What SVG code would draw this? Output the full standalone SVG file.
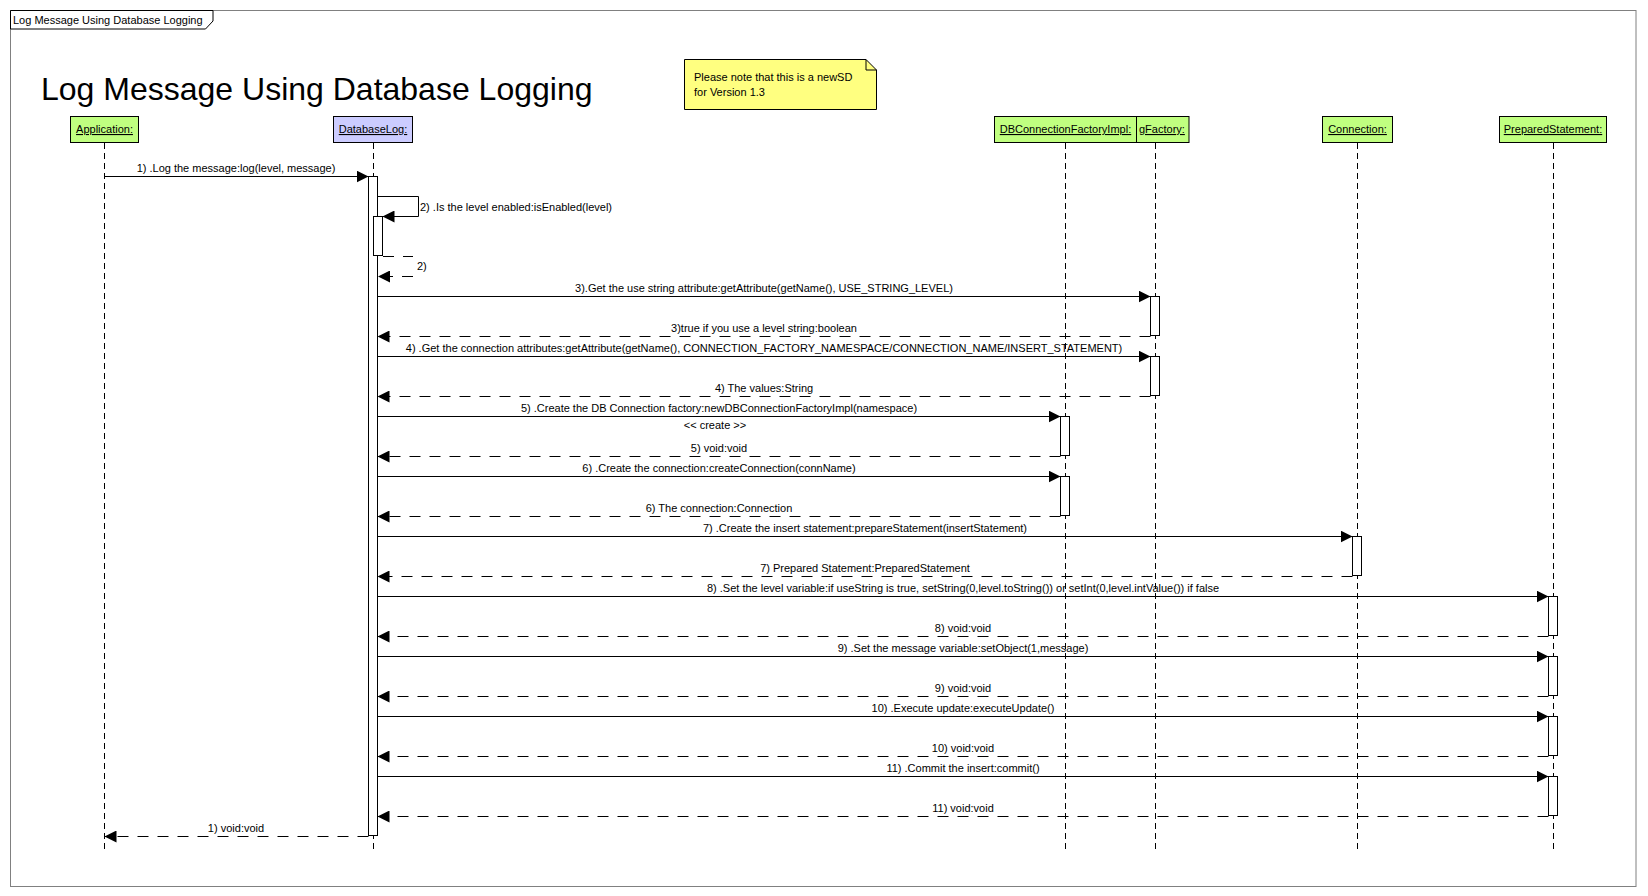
<svg xmlns="http://www.w3.org/2000/svg" width="1648" height="896" viewBox="0 0 1648 896">
<style>
text{font-family:"Liberation Sans",Arial,sans-serif;fill:#000}
.lbl{font-size:11px;text-anchor:middle}
.lbll{font-size:11px}
.hd{font-size:11px;text-anchor:middle;text-decoration:underline}
.box{stroke:#000;stroke-width:1}
.g{fill:#c0ff80}
.b{fill:#ccccff}
.life{stroke:#000;stroke-width:1;stroke-dasharray:6 4;fill:none}
.act{fill:#fff;stroke:#000;stroke-width:1}
.call{stroke:#000;stroke-width:1;fill:none;marker-end:url(#ah)}
.ret{stroke:#000;stroke-width:1;fill:none;stroke-dasharray:11 9;marker-end:url(#ah)}
</style>
<defs>
<marker id="ah" markerUnits="userSpaceOnUse" markerWidth="12" markerHeight="12" refX="12" refY="6" orient="auto">
<path d="M0,0 L12,6 L0,12 z" fill="#000"/>
</marker>
</defs>
<rect width="1648" height="896" fill="#fff"/>
<g id="frame">
<rect x="10.5" y="10.5" width="1625.5" height="876" fill="none" stroke="#808080"/>
<polygon points="10.5,10.5 213,10.5 213,21 205.5,29 10.5,29" fill="#fff" stroke="#000"/>
<text x="13" y="24" class="lbll">Log Message Using Database Logging</text>
<text x="41" y="100" style="font-size:32px">Log Message Using Database Logging</text>
</g>
<g id="note">
<polygon points="684.5,59.5 866,59.5 876.5,70 876.5,109.5 684.5,109.5" fill="#ffff80" stroke="#000"/>
<polyline points="866,59.5 866,70 876.5,70" fill="none" stroke="#000"/>
<text x="694" y="81" class="lbll">Please note that this is a newSD</text>
<text x="694" y="96" class="lbll">for Version 1.3</text>
</g>
<g id="lifelines">
<line x1="104.5" y1="143" x2="104.5" y2="850" class="life"/>
<line x1="373.5" y1="143" x2="373.5" y2="850" class="life"/>
<line x1="1065.5" y1="143" x2="1065.5" y2="850" class="life"/>
<line x1="1155.5" y1="143" x2="1155.5" y2="850" class="life"/>
<line x1="1357.5" y1="143" x2="1357.5" y2="850" class="life"/>
<line x1="1553.5" y1="143" x2="1553.5" y2="850" class="life"/>
</g>
<g id="Application">
<rect x="70.5" y="116.5" width="68" height="26" class="box g"/>
<text x="104.5" y="133" class="hd">Application:</text>
</g>
<g id="DatabaseLog">
<rect x="333.5" y="116.5" width="79" height="26" class="box b"/>
<text x="373" y="133" class="hd">DatabaseLog:</text>
</g>
<g id="gFactory">
<rect x="1121.5" y="116.5" width="67.5" height="26" class="box g"/>
<text x="1139" y="133" class="lbll" style="text-decoration:underline">gFactory:</text>
</g>
<g id="DBConnectionFactoryImpl">
<rect x="994.5" y="116.5" width="142" height="26" class="box g"/>
<text x="1065.5" y="133" class="hd">DBConnectionFactoryImpl:</text>
</g>
<g id="Connection">
<rect x="1322.5" y="116.5" width="70" height="26" class="box g"/>
<text x="1357.5" y="133" class="hd">Connection:</text>
</g>
<g id="PreparedStatement">
<rect x="1499.5" y="116.5" width="107" height="26" class="box g"/>
<text x="1553" y="133" class="hd">PreparedStatement:</text>
</g>
<g id="activations">
<rect x="368.5" y="176.5" width="9" height="659" class="act"/>
<rect x="373.5" y="216.5" width="9" height="39" class="act"/>
<rect x="1150.5" y="296.5" width="9" height="39" class="act"/>
<rect x="1150.5" y="356.5" width="9" height="39" class="act"/>
<rect x="1060.5" y="416.5" width="9" height="39" class="act"/>
<rect x="1060.5" y="476.5" width="9" height="39" class="act"/>
<rect x="1352.5" y="536.5" width="9" height="39" class="act"/>
<rect x="1548.5" y="596.5" width="9" height="39" class="act"/>
<rect x="1548.5" y="656.5" width="9" height="39" class="act"/>
<rect x="1548.5" y="716.5" width="9" height="39" class="act"/>
<rect x="1548.5" y="776.5" width="9" height="39" class="act"/>
</g>
<g id="connectors">
<path d="M104.5,176.5 H368.5" class="call"/>
<path d="M377.5,196.5 H418.5 V216.5 H382.5" class="call"/>
<path d="M383,256.5 H413 M413,276.5 H378" class="ret"/>
<path d="M377.5,296.5 H1150.5" class="call"/>
<path d="M1150.5,336.5 H377.5" class="ret"/>
<path d="M377.5,356.5 H1150.5" class="call"/>
<path d="M1150.5,396.5 H377.5" class="ret"/>
<path d="M377.5,416.5 H1060.5" class="call"/>
<path d="M1060.5,456.5 H377.5" class="ret"/>
<path d="M377.5,476.5 H1060.5" class="call"/>
<path d="M1060.5,516.5 H377.5" class="ret"/>
<path d="M377.5,536.5 H1352.5" class="call"/>
<path d="M1352.5,576.5 H377.5" class="ret"/>
<path d="M377.5,596.5 H1548.5" class="call"/>
<path d="M1548.5,636.5 H377.5" class="ret"/>
<path d="M377.5,656.5 H1548.5" class="call"/>
<path d="M1548.5,696.5 H377.5" class="ret"/>
<path d="M377.5,716.5 H1548.5" class="call"/>
<path d="M1548.5,756.5 H377.5" class="ret"/>
<path d="M377.5,776.5 H1548.5" class="call"/>
<path d="M1548.5,816.5 H377.5" class="ret"/>
<path d="M368.5,836.5 H104.5" class="ret"/>
</g>
<g id="labels">
<text x="236" y="172" class="lbl">1) .Log the message:log(level, message)</text>
<text x="420" y="211" class="lbll">2) .Is the level enabled:isEnabled(level)</text>
<text x="417" y="270" class="lbll">2)</text>
<text x="764" y="292" class="lbl">3).Get the use string attribute:getAttribute(getName(), USE_STRING_LEVEL)</text>
<text x="764" y="332" class="lbl">3)true if you use a level string:boolean</text>
<text x="764" y="352" class="lbl">4) .Get the connection attributes:getAttribute(getName(), CONNECTION_FACTORY_NAMESPACE/CONNECTION_NAME/INSERT_STATEMENT)</text>
<text x="764" y="392" class="lbl">4) The values:String</text>
<text x="719" y="412" class="lbl">5) .Create the DB Connection factory:newDBConnectionFactoryImpl(namespace)</text>
<text x="715" y="429" class="lbl">&lt;&lt; create &gt;&gt;</text>
<text x="719" y="452" class="lbl">5) void:void</text>
<text x="719" y="472" class="lbl">6) .Create the connection:createConnection(connName)</text>
<text x="719" y="512" class="lbl">6) The connection:Connection</text>
<text x="865" y="532" class="lbl">7) .Create the insert statement:prepareStatement(insertStatement)</text>
<text x="865" y="572" class="lbl">7) Prepared Statement:PreparedStatement</text>
<text x="963" y="592" class="lbl">8) .Set the level variable:if useString is true, setString(0,level.toString()) or setInt(0,level.intValue()) if false</text>
<text x="963" y="632" class="lbl">8) void:void</text>
<text x="963" y="652" class="lbl">9) .Set the message variable:setObject(1,message)</text>
<text x="963" y="692" class="lbl">9) void:void</text>
<text x="963" y="712" class="lbl">10) .Execute update:executeUpdate()</text>
<text x="963" y="752" class="lbl">10) void:void</text>
<text x="963" y="772" class="lbl">11) .Commit the insert:commit()</text>
<text x="963" y="812" class="lbl">11) void:void</text>
<text x="236" y="832" class="lbl">1) void:void</text>
</g>
</svg>
